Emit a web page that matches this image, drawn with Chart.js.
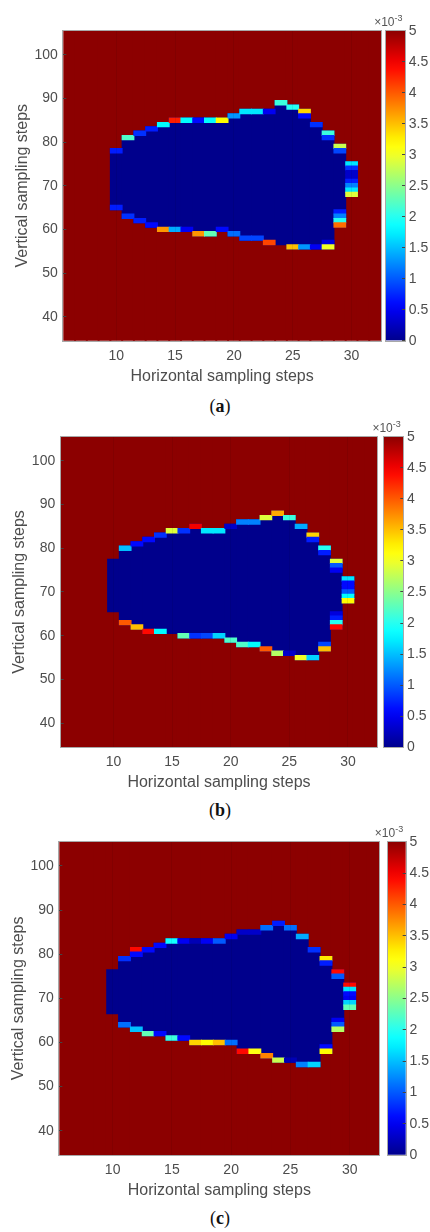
<!DOCTYPE html>
<html>
<head>
<meta charset="utf-8">
<script src="https://cdn.jsdelivr.net/npm/chart.js@4.4.1/dist/chart.umd.min.js"></script>
<style>
  html, body { margin: 0; padding: 0; background: #fff; }
  body { width: 430px; height: 1232px; position: relative; overflow: hidden; font-family: "Liberation Sans", Arial, sans-serif; }
  canvas { position: absolute; }
  .exp { position: absolute; font-size: 12px; line-height: 14px; color: #555; white-space: nowrap; }
  .exp sup { font-size: 9px; vertical-align: 5px; line-height: 0; }
  .cap { position: absolute; width: 60px; text-align: center; font-family: "Liberation Serif", serif; font-size: 18px; line-height: 20px; color: #111; }
</style>
</head>
<body>
<script>
// grid of the map
const columns = [10, 11, 12, 13, 14, 15, 16, 17, 18, 19, 20, 21, 22, 23, 24, 25, 26, 27, 28, 29, 30];
const fieldColumns = [6, 7, 8, 9, 10, 11, 12, 13, 14, 15, 16, 17, 18, 19, 20, 21, 22, 23, 24, 25, 26, 27, 28, 29, 30, 31, 32];
const rowRange = [35, 105];

const xTicks = [10, 15, 20, 25, 30];
const yTicks = [40, 50, 60, 70, 80, 90, 100];
const cbTicks = [0, 0.5, 1, 1.5, 2, 2.5, 3, 3.5, 4, 4.5, 5];
const captions = ["a", "b", "c"];

// (a) top / bottom row of the low region per column, edge cells [x, y, value x1e-3]
const topA = [78, 81, 82, 83, 84, 85, 85, 85, 85, 85, 86, 87, 87, 87, 89, 88, 87, 84, 82, 79, 75];
const botA = [65, 63, 62, 61, 60, 60, 60, 59, 59, 60, 59, 58, 58, 57, 57, 56, 56, 56, 56, 61, 68];
const edgeA = [
  [10, 78, 0.7], [10, 65, 0.7], [11, 81, 2.2], [11, 63, 0.8], [12, 82, 0.8], [12, 62, 0.7],
  [13, 83, 0.7], [13, 61, 0.6], [14, 84, 1.8], [14, 60, 3.7], [15, 85, 4.3], [15, 60, 1.4],
  [16, 85, 1.8], [16, 60, 0.5], [17, 85, 0.6], [17, 59, 3.7], [18, 85, 1.8], [18, 59, 2.3],
  [19, 85, 3.2], [19, 60, 0.6], [20, 86, 1.3], [20, 59, 1.1], [21, 87, 1.7], [21, 58, 0.9],
  [22, 87, 1.7], [22, 58, 0.9], [23, 87, 0.5], [23, 57, 4.1], [24, 89, 2.1], [25, 88, 2.0],
  [25, 56, 3.5], [26, 87, 3.4], [26, 86, 0.6], [26, 56, 1.3], [27, 84, 0.8], [27, 56, 0.5],
  [28, 82, 2.1], [28, 81, 0.8], [28, 57, 0.4], [28, 56, 3.0],
  [29, 79, 2.8], [29, 78, 0.9], [29, 64, 0.7], [29, 63, 1.2], [29, 62, 2.0], [29, 61, 3.9],
  [30, 75, 1.7], [30, 74, 0.8], [30, 73, 0.3], [30, 72, 0.3], [30, 71, 0.7], [30, 70, 1.2], [30, 69, 1.7], [30, 68, 2.9]
];

// (b)
const topB = [77, 80, 81, 82, 83, 84, 84, 85, 84, 84, 85, 86, 86, 87, 88, 87, 85, 83, 80, 77, 73];
const botB = [66, 63, 62, 61, 61, 61, 60, 60, 60, 60, 59, 58, 58, 57, 56, 56, 55, 55, 57, 62, 68];
const edgeB = [
  [11, 80, 1.5], [11, 63, 4.0], [12, 81, 0.6], [12, 62, 3.5], [13, 82, 0.6], [13, 61, 4.4],
  [14, 83, 0.8], [14, 61, 1.8], [15, 84, 2.9], [16, 84, 0.8], [16, 60, 2.3],
  [17, 85, 4.5], [17, 60, 0.8], [18, 84, 1.7], [18, 60, 0.9], [19, 84, 1.7], [19, 60, 1.6],
  [20, 85, 0.3], [20, 59, 2.2], [21, 86, 1.2], [21, 58, 2.2], [22, 86, 1.2], [22, 58, 1.8],
  [23, 87, 2.9], [23, 57, 4.0], [24, 88, 3.6], [24, 56, 2.7], [25, 87, 2.1], [25, 56, 0.3],
  [26, 85, 1.4], [26, 55, 3.0], [27, 83, 3.4], [27, 82, 0.7], [27, 55, 1.6],
  [28, 80, 2.0], [28, 79, 0.7], [28, 58, 0.9], [28, 57, 3.5],
  [29, 77, 2.9], [29, 76, 1.0], [29, 75, 0.5], [29, 65, 0.4], [29, 64, 0.7], [29, 63, 2.0], [29, 62, 4.4],
  [30, 73, 1.7], [30, 72, 0.6], [30, 71, 0.6], [30, 70, 1.0], [30, 69, 1.8], [30, 68, 3.2]
];

// (c)
const topC = [76, 79, 81, 81, 82, 83, 83, 83, 83, 83, 84, 85, 85, 86, 87, 86, 84, 81, 79, 76, 73];
const botC = [67, 64, 63, 62, 62, 61, 61, 60, 60, 60, 60, 58, 58, 57, 56, 56, 55, 55, 58, 63, 68];
const edgeC = [
  [11, 79, 0.8], [11, 64, 1.1], [12, 81, 4.4], [12, 80, 0.6], [12, 63, 1.5], [13, 81, 0.6], [13, 62, 2.3],
  [14, 82, 0.6], [14, 62, 0.6], [15, 83, 1.9], [15, 61, 2.1], [16, 83, 0.5], [16, 61, 0.6],
  [17, 83, 0.2], [17, 60, 3.4], [18, 83, 0.5], [18, 60, 3.2], [19, 83, 1.0], [19, 60, 3.5],
  [20, 84, 0.5], [20, 60, 1.1], [21, 85, 0.3], [21, 58, 4.4], [22, 85, 0.3], [22, 58, 3.1],
  [23, 86, 1.1], [23, 57, 3.8], [24, 87, 0.7], [24, 56, 2.8], [25, 86, 1.1], [25, 56, 0.2],
  [26, 84, 1.4], [26, 55, 1.2], [27, 81, 0.8], [27, 55, 1.6],
  [28, 79, 3.3], [28, 78, 0.7], [28, 59, 0.6], [28, 58, 3.2],
  [29, 76, 4.4], [29, 75, 1.0], [29, 65, 0.5], [29, 64, 1.0], [29, 63, 2.7],
  [30, 73, 4.4], [30, 72, 1.7], [30, 71, 0.6], [30, 70, 0.5], [30, 69, 1.6], [30, 68, 2.3]
];

// page layout of the three panels (pixels)
const panels = [
  { top: topA, bot: botA, edges: edgeA, plot: { l: 63.3, t: 30.7, r: 381, b: 340.7 }, cb: { l: 385.7, r: 405 }, capY: 406 },
  { top: topB, bot: botB, edges: edgeB, plot: { l: 60.7, t: 436.7, r: 377.3, b: 747.3 }, cb: { l: 384, r: 403.3 }, capY: 810 },
  { top: topC, bot: botC, edges: edgeC, plot: { l: 59.3, t: 841.7, r: 379.3, b: 1155 }, cb: { l: 387.7, r: 405.7 }, capY: 1218 }
];

const vMax = cbTicks[cbTicks.length - 1];
const textColor = "#4d4d4d";

// matlab jet colormap
function jet(v) {
  const t = v / vMax;
  const f = c => Math.round(255 * Math.max(0, Math.min(1, c)));
  return `rgb(${f(1.55 - Math.abs(4 * t - 3))},${f(1.55 - Math.abs(4 * t - 2))},${f(1.55 - Math.abs(4 * t - 1))})`;
}

const frame = {
  id: "frame",
  afterDraw(chart) {
    const { ctx, chartArea: a } = chart;
    const l = Math.round(a.left), t = Math.round(a.top), r = Math.round(a.right), b = Math.round(a.bottom);
    ctx.save();
    ctx.strokeStyle = "#a8a8a8";
    ctx.lineWidth = 1;
    ctx.strokeRect(l - 0.5, t - 0.5, r - l + 1, b - t + 1);
    ctx.restore();
  }
};

Chart.defaults.font.family = '"Liberation Sans", Arial, sans-serif';
Chart.defaults.color = textColor;

function addCanvas(left, top, w, h) {
  const c = document.createElement("canvas");
  c.width = w; c.height = h;
  c.style.left = left + "px"; c.style.top = top + "px";
  c.style.width = w + "px"; c.style.height = h + "px";
  document.body.appendChild(c);
  return c;
}

panels.forEach((p, k) => {
  const ct = Math.round(p.plot.t) - 31;
  const W = Math.ceil(p.plot.r) + 2;
  const H = Math.ceil(p.plot.b - ct) + 50;
  const padTop = p.plot.t - ct;
  const padBottom = H - (p.plot.b - ct);

  // heat map
  new Chart(addCanvas(0, ct, W, H), {
    type: "bar",
    data: {
      datasets: [
        {
          label: "edge",
          data: p.edges.map(([x, y, v]) => ({ x, y: [y - 0.5, y + 0.5], v })),
          backgroundColor: c => jet(c.raw ? c.raw.v : 0),
          inflateAmount: 0.5,
          order: 1
        },
        {
          label: "inside",
          data: columns.map((x, i) => ({ x, y: [p.bot[i] - 0.5, p.top[i] + 0.5] })),
          backgroundColor: jet(0),
          inflateAmount: 0.5,
          order: 2
        },
        {
          label: "outside",
          data: fieldColumns.map(x => ({ x, y: [rowRange[0] - 0.5, rowRange[1] + 0.5] })),
          backgroundColor: jet(vMax),
          inflateAmount: 1,
          order: 3
        }
      ]
    },
    options: {
      responsive: false,
      animation: false,
      devicePixelRatio: 1,
      layout: { padding: { left: 0, top: padTop, right: W - p.plot.r, bottom: padBottom - 45 } },
      datasets: { bar: { grouped: false, barPercentage: 1, categoryPercentage: 1, borderWidth: 0 } },
      plugins: { legend: { display: false }, tooltip: { enabled: false } },
      scales: {
        x: {
          type: "linear",
          min: fieldColumns[0] - 0.5,
          max: fieldColumns[fieldColumns.length - 1] + 0.5,
          offset: false,
          afterBuildTicks: s => { s.ticks = xTicks.map(v => ({ value: v })); },
          afterFit: s => { s.height = 45; },
          ticks: { font: { size: 14 }, padding: 6.6, color: textColor, callback: v => String(v) },
          grid: { offset: false, color: "rgba(0,0,0,0.07)", drawTicks: false, z: 1 },
          border: { display: false },
          title: { display: true, text: "Horizontal sampling steps", font: { size: 16 }, color: textColor, padding: { top: 0, bottom: 0 } }
        },
        y: {
          min: rowRange[0] - 0.5,
          max: rowRange[1] + 0.5,
          beginAtZero: false,
          afterBuildTicks: s => { s.ticks = yTicks.map(v => ({ value: v })); },
          afterFit: s => { s.width = p.plot.l; },
          ticks: { font: { size: 14 }, padding: 8.5, color: textColor, callback: v => String(v) },
          grid: { drawOnChartArea: false, drawTicks: true, tickLength: -3, color: "#444", z: 1 },
          border: { display: false },
          title: { display: true, text: "Vertical sampling steps", font: { size: 16 }, color: textColor, padding: { top: p.plot.l - 41 - 9.6, bottom: 0 } }
        }
      }
    },
    plugins: [frame]
  });

  // colour bar
  const cl = Math.floor(p.cb.l) - 4;
  const cw = 430 - cl;
  new Chart(addCanvas(cl, ct, cw, H), {
    type: "bar",
    data: {
      labels: ["scale"],
      datasets: [{
        data: [[cbTicks[0], vMax]],
        backgroundColor: c => {
          const { ctx, chartArea } = c.chart;
          if (!chartArea) return jet(0);
          const g = ctx.createLinearGradient(0, chartArea.bottom, 0, chartArea.top);
          for (let i = 0; i <= 32; i++) g.addColorStop(i / 32, jet(vMax * i / 32));
          return g;
        },
        borderWidth: 0,
        barPercentage: 1,
        categoryPercentage: 1
      }]
    },
    options: {
      responsive: false,
      animation: false,
      devicePixelRatio: 1,
      layout: { padding: { left: p.cb.l - cl, top: padTop, right: 0, bottom: padBottom } },
      plugins: { legend: { display: false }, tooltip: { enabled: false } },
      scales: {
        x: { display: false },
        y: {
          position: "right",
          min: cbTicks[0],
          max: vMax,
          beginAtZero: false,
          afterBuildTicks: s => { s.ticks = cbTicks.map(v => ({ value: v })); },
          afterFit: s => { s.width = cw - (p.cb.r - cl); },
          ticks: { font: { size: 14 }, padding: 6.8, color: textColor, callback: v => String(v) },
          grid: { drawOnChartArea: false, drawTicks: true, tickLength: -3, color: "#444", z: 1 },
          border: { display: false }
        }
      }
    },
    plugins: [frame]
  });

  const exp = document.createElement("div");
  exp.className = "exp";
  exp.style.right = (430 - (p.cb.r - 2.5)) + "px";
  exp.style.top = (p.plot.t - 16) + "px";
  exp.innerHTML = "&times;10<sup>-3</sup>";
  document.body.appendChild(exp);

  const cap = document.createElement("div");
  cap.className = "cap";
  cap.style.left = "190px";
  cap.style.top = (p.capY - 10) + "px";
  cap.innerHTML = "(<b>" + captions[k] + "</b>)";
  document.body.appendChild(cap);
});
</script>
</body>
</html>
